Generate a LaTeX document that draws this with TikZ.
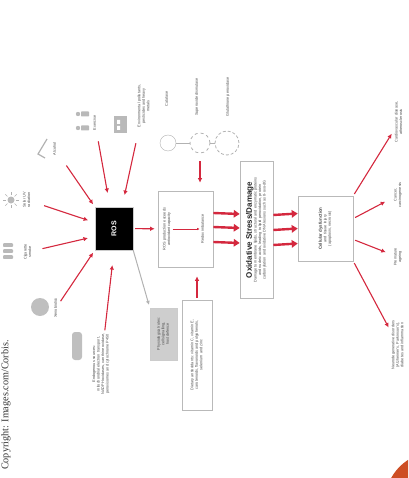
\documentclass[tikz,border=0pt]{standalone}
\usepackage{fontspec}
\setmainfont{Liberation Serif}
\setsansfont{Liberation Sans}
\usepackage{graphicx}
\usepackage{tikz}
\usetikzlibrary{arrows.meta, positioning}

\definecolor{rosred}{RGB}{212,40,62}
\definecolor{inkgrey}{RGB}{75,75,75}
\definecolor{panelgrey}{RGB}{206,206,206}
\definecolor{corbis}{RGB}{205,78,36}

% text set sideways, lines stacked left to right
\newcommand{\vtext}[1]{\rotatebox{90}{\begin{tabular}{@{}c@{}}#1\end{tabular}}}

\tikzset{
  smallprint/.style={font=\sffamily\fontsize{3.8}{4.5}\selectfont, text=inkgrey, inner sep=1pt},
  panel/.style={draw=gray!55, line width=0.6pt, fill=white},
  feed/.style={rosred, line width=1.1pt, -{Latex[length=4.5pt,width=4.5pt]}, shorten >=3pt, shorten <=2pt},
  flow/.style={rosred, line width=2.4pt, -{Triangle[length=6pt,width=7.5pt]}},
}

\begin{document}
\begin{tikzpicture}[x=1pt, y=-1pt]
\useasboundingbox (0,0) rectangle (408,478);
\clip (0,0) rectangle (408,478);

% credit line
\node[anchor=north, font=\rmfamily\fontsize{10.2}{12}\selectfont, text=black!80, inner sep=0pt] (credit) at (6,340) {\rotatebox{90}{Copyright: Images.com/Corbis.}};
\fill[corbis] (435,502) circle (50);

% ROS and its sources
\node[fill=black, draw=gray!40, minimum width=38, minimum height=43, text=white, font=\sffamily\bfseries\fontsize{7}{8}\selectfont] (ros) at (114,228.5) {\rotatebox{90}{ROS}};

\fill[gray!50] (40,307) circle (9);
\node[smallprint] (xeno) at (56,308) {\vtext{Xenobiotics}};

\foreach \y in {245,251,257}
  \fill[gray!55, rounded corners=0.8] (3,\y-1.8) rectangle (13,\y+1.8);
\node[smallprint] (smoke) at (28,252) {\vtext{Cigarette\\smoke}};

\fill[gray!55] (11,200) circle (3.5);
\foreach \a in {0,45,...,315}
  \draw[gray!60, line width=0.6pt] (11,200) ++(\a:5) -- ++(\a:3);
\node[smallprint] (uv) at (27,200) {\vtext{Solar UV\\radiation}};

\draw[gray!60, line width=1.2pt] (47,139) -- (38,154) -- (45,158);
\node[smallprint] (alcohol) at (55,149) {\vtext{Alcohol}};

\foreach \y in {114,128} {
  \fill[gray!55] (78,\y) circle (2.2);
  \fill[gray!55, rounded corners=0.6] (81,\y-2.5) rectangle (89,\y+2.5);
}
\node[smallprint] (exercise) at (95,123) {\vtext{Exercise}};

\fill[gray!55] (114,116) rectangle (127,133);
\fill[white] (117,120) rectangle (120,124) (117,126) rectangle (120,130);
\node[smallprint] (pollutants) at (144,106) {\vtext{Environmental pollutants,\\pesticides and heavy\\metals}};

\fill[gray!50, rounded corners=3] (72,332) rectangle (82,360);
\node[smallprint] (endo) at (101,364) {\vtext{Endogenous sources:\\mitochondrial electron transport,\\NADPH oxidases, xanthine oxidase,\\peroxisomes and cytochrome P450}};

\draw[feed] (xeno) -- (ros.south west);
\draw[feed, shorten <=9pt, shorten >=7pt] (smoke) -- ([yshift=-8]ros.west);
\draw[feed, shorten <=12pt, shorten >=7pt] (uv) -- ([yshift=6]ros.west);
\draw[feed, shorten <=14pt] (alcohol) -- (ros.north west);
\draw[feed, shorten <=10pt, shorten >=14pt] (exercise) -- ([xshift=-4]ros.north);
\draw[feed, shorten <=15pt, shorten >=12pt] (pollutants) -- ([xshift=8]ros.north);
\draw[feed, shorten >=15pt] (endo) -- (ros.south);

% antioxidant balance
\node[panel, minimum width=55, minimum height=76] (balance) at (185.5,229) {};
\node[smallprint] (bal-in) at (167,229) {\vtext{ROS production exceeds\\antioxidant capacity}};
\node[smallprint] (bal-out) at (203,229) {\vtext{Redox imbalance}};
\draw[rosred, line width=0.6pt, -{Latex[length=2.5pt,width=2.5pt]}] (bal-in) -- (bal-out);
\draw[feed] (ros) -- (balance);

\node[circle, draw=gray!60, minimum size=16, inner sep=0pt] (cat) at (168,143) {};
\node[circle, draw=gray!60, line width=0.8pt, dashed, minimum size=20, inner sep=0pt] (sod) at (200,143) {};
\node[circle, draw=gray!60, line width=0.8pt, densely dashed, minimum size=24, inner sep=0pt] (gpx) at (227,143) {};
\draw[gray!60] (cat) -- (sod) -- (gpx);
\node[smallprint] (cat-l) at (167,99) {\vtext{Catalase}};
\node[smallprint] (sod-l) at (197,97) {\vtext{Superoxide dismutase}};
\node[smallprint] (gpx-l) at (228,97) {\vtext{Glutathione peroxidase}};
\draw[feed, shorten <=8pt, shorten >=8pt] (sod) -- (sod |- balance.north);

\node[panel, smallprint, minimum width=30, minimum height=110] (dietary) at (197,355) {\vtext{Dietary antioxidants: vitamin C, vitamin E,\\carotenoids, flavonoids and polyphenols,\\selenium and zinc}};
\draw[feed, shorten >=9pt] (dietary) -- (dietary |- balance.south);

\node[smallprint, fill=panelgrey, draw=gray!40, text=black!70, minimum width=27, minimum height=52] (physio) at (163.5,334) {\vtext{Physiological roles:\\cell signalling,\\host defence}};
\draw[gray!60, line width=1pt, -{Latex[length=4pt,width=4pt]}, shorten >=3pt] (ros.south east) -- (physio.north west);

% oxidative stress and its outcome
\node[panel, smallprint, minimum width=33, minimum height=137] (oxstress) at (256.5,230) {\vtext{{\fontsize{8}{9}\selectfont\bfseries\color{black!85}Oxidative Stress/Damage}\\Damage to membrane lipids, structural and enzymatic proteins\\and nucleic acids, leading to lipid peroxidation, protein\\carbonylation and oxidative DNA lesions such as 8-oxo-dG}};
\foreach \dy in {16,2,-13}
  \draw[flow] ([yshift=\dy]balance.east) -- ([yshift=\dy]oxstress.west);

\node[panel, smallprint, minimum width=55, minimum height=65] (outcome) at (325.5,228.5) {\vtext{{\fontsize{4.4}{5.2}\selectfont\bfseries Cellular dysfunction}\\and tissue injury\\(apoptosis, necrosis)}};
\foreach \dy in {15,0,-15}
  \draw[flow] ([yshift=\dy]oxstress.east) -- ([yshift=\dy]outcome.west);

\node[smallprint] (cvd) at (399,122) {\vtext{Cardiovascular disease,\\atherosclerosis}};
\node[smallprint] (cancer) at (398,195) {\vtext{Cancer,\\carcinogenesis}};
\node[smallprint] (ageing) at (398,257) {\vtext{Premature\\ageing}};
\node[smallprint] (neuro) at (398,345) {\vtext{Neurodegenerative disorders\\(Alzheimer's, Parkinson's),\\diabetes and inflammation}};

\draw[feed] (outcome.north east) -- (cvd);
\draw[feed, shorten >=8pt] ([yshift=10]outcome.east) -- (cancer);
\draw[feed, shorten >=7pt] ([yshift=-11]outcome.east) -- (ageing);
\draw[feed] (outcome.south east) -- (neuro);
\end{tikzpicture}
\end{document}
